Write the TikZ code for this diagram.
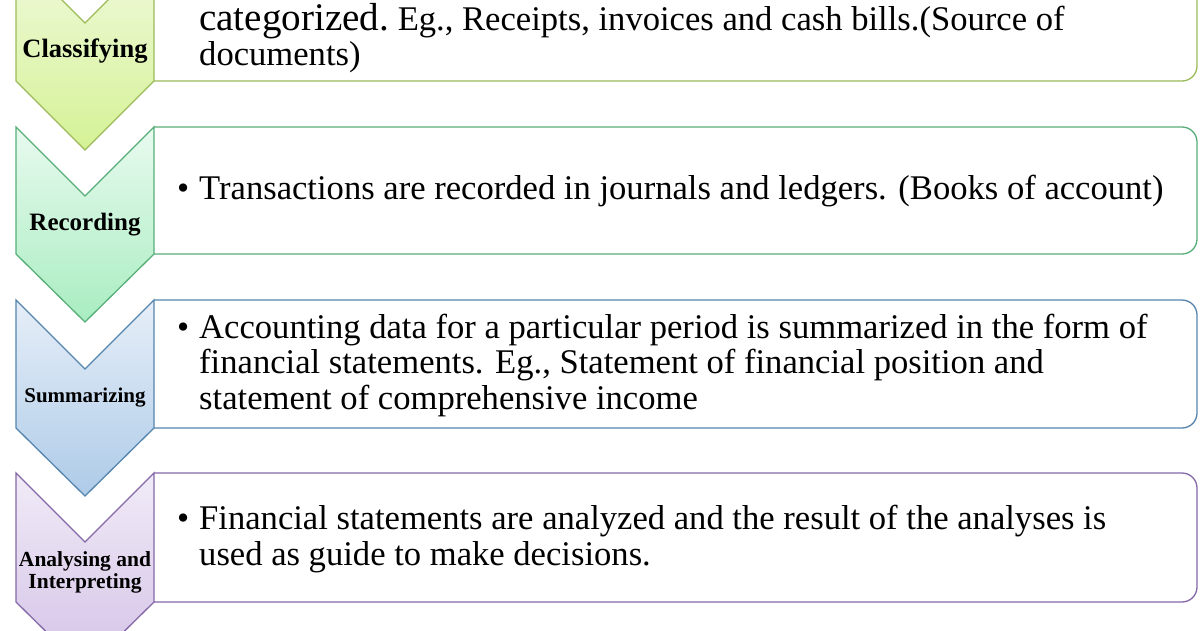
\documentclass[tikz,border=0pt]{standalone}
\usepackage{fontspec}
\setmainfont{Liberation Serif}
\usepackage{tikz}

\definecolor{classEdge}{HTML}{9BBB59}
\definecolor{classTop}{HTML}{F0F9DC}
\definecolor{classBottom}{HTML}{D5F296}
\definecolor{recEdge}{HTML}{58AE78}
\definecolor{recTop}{HTML}{E8FAEF}
\definecolor{recBottom}{HTML}{A9EDC1}
\definecolor{sumEdge}{HTML}{5585AE}
\definecolor{sumTop}{HTML}{E6EEF8}
\definecolor{sumBottom}{HTML}{AECBE8}
\definecolor{anaEdge}{HTML}{8468A8}
\definecolor{anaTop}{HTML}{F1EBF7}
\definecolor{anaBottom}{HTML}{D3C2E7}

\begin{document}
\begin{tikzpicture}[x=1pt, y=-1pt]
            % Set primary styles
            \tikzset{
                stageShape/.style={
                        line width=1.3pt,
                        line join=miter
                    }
            }
            \tikzset{
                stageBox/.style={
                        line width=1.3pt,
                        fill=white,
                        rounded corners=15pt
                    }
            }
            \tikzset{
                stageLabel/.style={
                        font=\bfseries,
                        align=center,
                        inner sep=0pt
                    }
            }
            \tikzset{
                itemText/.style={
                        align=left,
                        anchor=west,
                        inner sep=0pt,
                        font=\rmfamily\fontsize{34.6}{35.5}\selectfont
                    }
            }
            % Frame of the picture
            \useasboundingbox (0,0) rectangle (1200,630);
            \clip (0,0) rectangle (1200,630);
            % Boxes
            \draw[stageBox, draw=classEdge](154,-46) -- (1197,-46) -- (1197,81) -- (154,81);
            \draw[stageBox, draw=recEdge](154,127) -- (1197,127) -- (1197,254) -- (154,254);
            \draw[stageBox, draw=sumEdge](154,300) -- (1197,300) -- (1197,428) -- (154,428);
            \draw[stageBox, draw=anaEdge](154,473) -- (1197,473) -- (1197,602) -- (154,602);
            % Chevrons
            \draw[stageShape, draw=classEdge, top color=classTop, bottom color=classBottom]
                (16,-46) -- (85,23) -- (154,-46) -- (154,81) -- (85,150) -- (16,81) -- cycle;
            \draw[stageShape, draw=recEdge, top color=recTop, bottom color=recBottom]
                (16,127) -- (85,196) -- (154,127) -- (154,254) -- (85,322) -- (16,254) -- cycle;
            \draw[stageShape, draw=sumEdge, top color=sumTop, bottom color=sumBottom]
                (16,300) -- (85,369) -- (154,300) -- (154,428) -- (85,496) -- (16,428) -- cycle;
            \draw[stageShape, draw=anaEdge, top color=anaTop, bottom color=anaBottom]
                (16,473) -- (85,542) -- (154,473) -- (154,602) -- (85,670) -- (16,602) -- cycle;
            % Chevron labels
            \node[stageLabel, font=\bfseries\fontsize{26.5}{28}\selectfont](classifying) at (85,51){Classifying};
            \node[stageLabel, font=\bfseries\fontsize{25}{28}\selectfont](recording) at (85,225){Recording};
            \node[stageLabel, font=\bfseries\fontsize{21}{24}\selectfont](summarizing) at (85,398){Summarizing};
            \node[stageLabel, font=\bfseries\fontsize{21.5}{22}\selectfont](analysing) at (85,572){Analysing and\\Interpreting};
            % Box texts
            \node[itemText](classifyingText) at (199,38){\scalebox{1.13}{categorized.} Eg., Receipts, invoices and cash bills.(Source of\\documents)};
            \node[itemText](recordingText) at (199,191){\llap{\textbullet\hspace{10pt}}Transactions are recorded in journals and ledgers. (Books of account)};
            \node[itemText](summarizingText) at (199,365){\llap{\textbullet\hspace{10pt}}Accounting data for a particular period is summarized in the form of\\financial statements. Eg., Statement of financial position and\\statement of comprehensive income};
            \node[itemText](analysingText) at (199,539){\llap{\textbullet\hspace{10pt}}Financial statements are analyzed and the result of the analyses is\\used as guide to make decisions.};

        \end{tikzpicture}
\end{document}
